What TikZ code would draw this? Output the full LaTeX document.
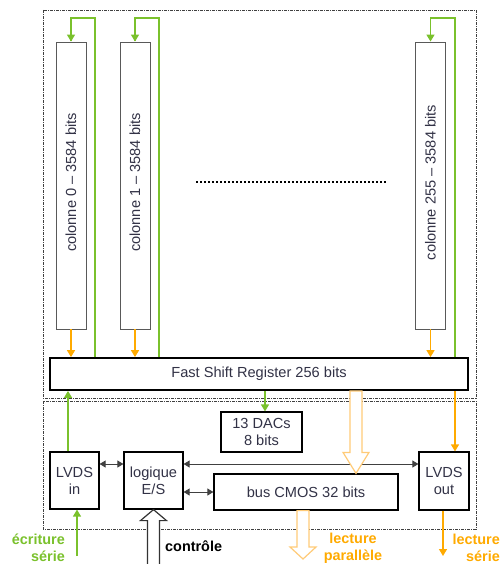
\documentclass[tikz,border=0pt]{standalone}
\usepackage{fontspec}
\setmainfont{Liberation Sans}
\usepackage{tikz}
\usetikzlibrary{arrows.meta,calc}
\definecolor{vertfleche}{RGB}{122,193,44}
\definecolor{orangefleche}{RGB}{255,170,0}
\definecolor{orangeclair}{RGB}{255,203,120}
\definecolor{textebloc}{RGB}{50,50,70}
\tikzset{
  cadre/.style={draw=black!75, line width=0.9pt, dash pattern=on 3pt off 1pt on 1pt off 1pt},
  colonne/.style={rectangle, draw=black!65, line width=0.9pt, fill=white, rotate=90, minimum width=287pt, minimum height=30pt, inner sep=0pt, font=\fontsize{14.6}{17}\selectfont, text=textebloc},
  bloc/.style={rectangle, draw=black, line width=1.2pt, fill=white, align=center, inner sep=0pt, font=\fontsize{14.6}{17}\selectfont, text=textebloc},
  vertfl/.style={draw=vertfleche, line width=1.4pt, -{Triangle[width=8pt,length=7pt]}},
  vertlig/.style={draw=vertfleche, line width=1.4pt},
  orangefl/.style={draw=orangefleche, line width=1.4pt, -{Triangle[width=8pt,length=7pt]}},
  bidir/.style={draw=black!75, line width=0.9pt, {Triangle[width=7pt,length=6pt]}-{Triangle[width=7pt,length=6pt]}},
  creuse/.style={draw=orangeclair, line width=1.2pt, fill=white},
  creusenoire/.style={draw=black!80, line width=1.2pt, fill=white},
  etiquette/.style={font=\bfseries\fontsize{14.4}{17}\selectfont, inner sep=0pt}
}
% fleche creuse : style, depart, pointe, longueur de la tete
\newcommand{\flechecreuse}[4]{\draw[#1] ($(#2)+(-6,0)$) -- ($(#3)+(-6,#4)$) -- ($(#3)+(-13,#4)$) -- (#3) -- ($(#3)+(13,#4)$) -- ($(#3)+(6,#4)$) -- ($(#2)+(6,0)$) -- cycle;}

\begin{document}
\begin{tikzpicture}[x=1pt, y=-1pt]
\useasboundingbox (0,0) rectangle (501,564);

% cadres
\draw[cadre] (43,10) rectangle (476,398);
\draw[cadre] (43,401) rectangle (476,529);

% colonnes
\node[colonne] (col0) at (71,185.5) {\hspace{6pt}colonne 0 \textendash{} 3584 bits};
\node[colonne] (col1) at (135,185.5) {\hspace{6pt}colonne 1 \textendash{} 3584 bits};
\node[colonne] (col255) at (430.5,185.5) {\hspace{6pt}colonne 255 \textendash{} 3584 bits};
\draw[black, line width=2pt, dotted] (196,182) -- (387,182);

\node[bloc, line width=1.8pt, minimum width=418pt, minimum height=32pt] (fsr) at (259,374) {Fast Shift Register 256 bits};

% retour vers le haut des colonnes
\coordinate (ret0) at (95,18);
\coordinate (ret1) at (159,18);
\coordinate (ret255) at (455,18);
\foreach \c/\r in {col0/ret0,col1/ret1,col255/ret255}{
  \draw[vertlig] (fsr.north -| \r) -- (\r) -| ($(\c.east)+(0,-1)$);
  \draw[vertfl] ($(\r -| \c.east)+(0,1)$) -- (\c.east);
  \draw[orangefl] (\c.west) -- (fsr.north -| \c.west);
}

% partie basse
\node[bloc, minimum width=81pt, minimum height=40pt] (dac) at (261.5,432) {13 DACs\\8 bits};
\node[bloc, minimum width=49pt, minimum height=57pt] (lvdsin) at (74.5,480.5) {LVDS\\in};
\node[bloc, minimum width=59pt, minimum height=57pt] (logique) at (153.5,480.5) {logique\\E/S};
\node[bloc, minimum width=184pt, minimum height=36pt] (bus) at (306,492) {bus CMOS 32 bits};
\node[bloc, minimum width=50pt, minimum height=58pt] (lvdsout) at (444,481) {LVDS\\out};

\coordinate (dacx) at (265,0);
\draw[vertfl] (fsr.south -| dacx) -- (dac.north -| dacx);
\coordinate (entree) at (68,0);
\draw[vertfl] (lvdsin.north -| entree) -- (fsr.south -| entree);
\coordinate (ecr) at (77,556);
\draw[vertfl] (ecr) -- (lvdsin.south -| ecr);

\coordinate (ligne) at (0,464);
\draw[bidir] (lvdsin.east |- ligne) -- (logique.west |- ligne);
\draw[bidir] (logique.east |- ligne) -- (lvdsout.west |- ligne);
\draw[bidir] (logique.east |- bus) -- (bus.west);

\coordinate (serx) at (455,0);
\draw[orangefl] (fsr.south -| serx) -- (lvdsout.north -| serx);
\coordinate (lsx) at (443,556);
\draw[orangefl] (lvdsout.south -| lsx) -- (lsx);

% fleches creuses
\coordinate (parx) at (356,0);
\coordinate (par-a) at (fsr.south -| parx);
\coordinate (par-b) at (bus.north -| parx);
\flechecreuse{creuse}{par-a}{par-b}{-21}
\coordinate (lp-a) at (bus.south -| 303,0);
\coordinate (lp-b) at (303,559);
\flechecreuse{creuse}{lp-a}{lp-b}{-12}
\coordinate (ctrl-a) at (153.5,566);
\flechecreuse{creusenoire}{ctrl-a}{logique.south}{11}

% etiquettes
\node[etiquette, text=vertfleche, align=right, anchor=east] (l-ecr) at (65,548) {écriture\\série};
\node[etiquette, anchor=west] (l-ctrl) at (165,546) {contrôle};
\node[etiquette, text=orangefleche, align=center] (l-par) at (353,548) {lecture\\parallèle};
\node[etiquette, text=orangefleche, align=right, anchor=east] (l-ser) at (500,548) {lecture\\série};

\end{tikzpicture}
\end{document}
